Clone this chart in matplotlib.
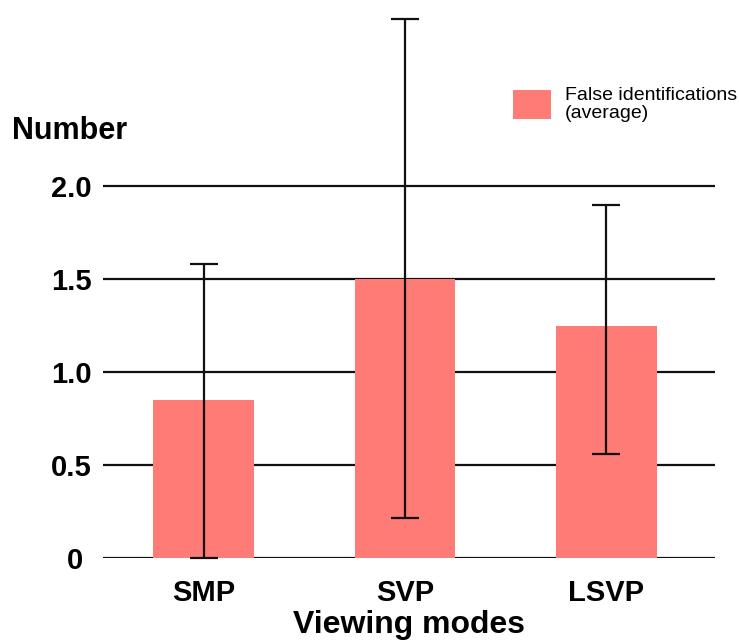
import matplotlib
matplotlib.use("Agg")
import matplotlib.pyplot as plt
from matplotlib.transforms import ScaledTranslation

# Falsche Identifikationen pro Darstellungsmodus (Mittelwert + Fehlerbalken)
modos = ["SMP", "SVP", "LSVP"]
media = [0.85, 1.5, 1.25]
erro_baixo = [0.85, 1.285, 0.69]
erro_cima = [0.73, 1.40, 0.65]
yticks = [0, 0.5, 1.0, 1.5, 2.0]
ytick_labels = ["0", "0.5", "1.0", "1.5", "2.0"]

plt.rcParams["font.family"] = ["Liberation Sans", "DejaVu Sans"]

fig = plt.figure(figsize=(7.39, 6.42), dpi=100)
ax = fig.add_axes([103 / 739, 1 - 558 / 642, 612 / 739, 558 / 642])

x = range(len(modos))
ax.bar(x, media, width=0.5, color="#ff7b76", zorder=2,
       label="False identifications\n(average)")
ax.errorbar(x, media, yerr=[erro_baixo, erro_cima], fmt="none",
            ecolor="#111111", elinewidth=1.6, capsize=10, capthick=1.6,
            zorder=3, clip_on=False)

ax.set_xlim(-0.5, 2.54)
ax.set_ylim(0, 3.0)
ax.set_yticks(yticks)
ax.set_yticklabels(ytick_labels)
ax.set_xticks(list(x))
ax.set_xticklabels(modos)
ax.yaxis.grid(True, color="#111111", linewidth=1.6, zorder=1)
ax.set_axisbelow(True)
for s in ax.spines.values():
    s.set_visible(False)
ax.tick_params(axis="both", length=0, labelsize=21)
ax.tick_params(axis="y", pad=8)
ax.tick_params(axis="x", pad=15)
for t in ax.get_xticklabels() + ax.get_yticklabels():
    t.set_fontweight("bold")

# o "0" fica um pouco mais a esquerda
zero = ax.get_yticklabels()[0]
zero.set_transform(zero.get_transform() + ScaledTranslation(-9 / 100, 0, fig.dpi_scale_trans))

ax.set_xlabel("Viewing modes", fontsize=23, fontweight="bold", labelpad=2)
fig.text(12 / 739, 1 - 131 / 642, "Number", fontsize=22, fontweight="bold",
         va="center", ha="left")

leg = ax.legend(loc="upper left", bbox_to_anchor=(513 / 739, 1 - 87 / 642),
                bbox_transform=fig.transFigure, frameon=False, fontsize=14,
                handlelength=1.95, handleheight=1.9, handletextpad=0.7,
                borderpad=0, borderaxespad=0)
for t in leg.get_texts():
    t.set_linespacing(1.05)

plt.savefig("out.png", dpi=100)
